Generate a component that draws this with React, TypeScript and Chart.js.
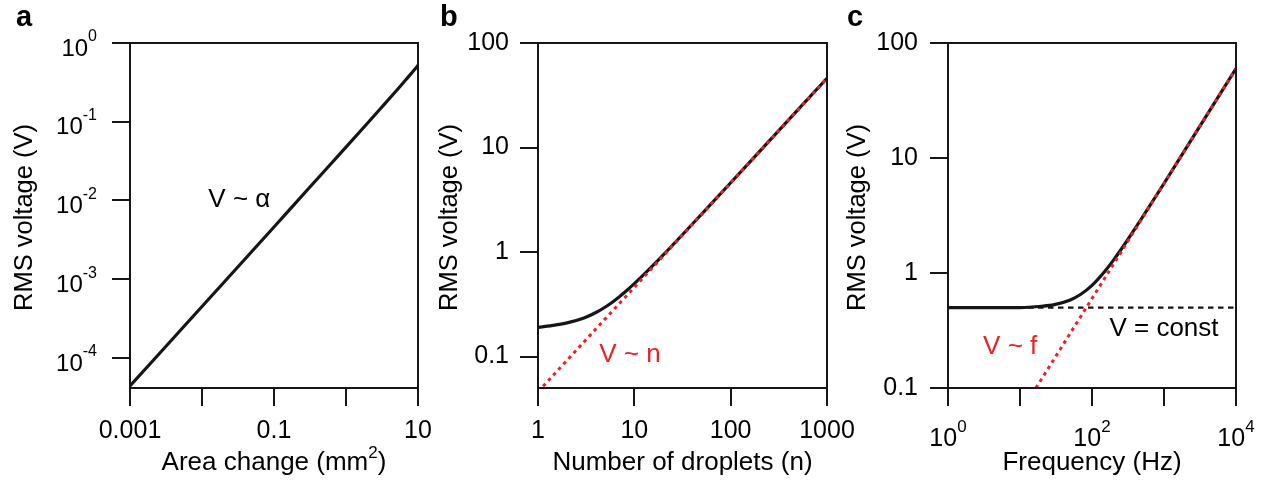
import React, { useEffect, useRef } from 'react';
import { Chart, registerables } from 'chart.js';

Chart.register(...registerables);

const FONT = "'Liberation Sans', Arial, Helvetica, sans-serif";
const RED = 'rgb(236, 32, 39)';
const INK = '#161615';

// ---------- Panel a ----------
const areaChange = [0.001, 0.01, 0.1, 0.3, 1, 2, 3, 5, 7, 8.5, 10];
const voltageA = [4.4e-5, 4.5e-4, 4.6e-3, 0.0141, 0.0475, 0.0963, 0.146, 0.247, 0.353, 0.435, 0.52];
const aXTicks = [0.001, 0.01, 0.1, 1, 10];
const aXLabels = ['0.001', '', '0.1', '', '10'];
const aYTicks = [1, 0.1, 0.01, 0.001, 0.0001];
const aYLabels = ['10^{0}', '10^{-1}', '10^{-2}', '10^{-3}', '10^{-4}'];

// ---------- Panel b ----------
const droplets = [1, 1.5, 2, 3, 4, 5, 6, 7, 8, 10, 12, 15, 20, 30, 50, 100, 200, 500, 1000];
const voltageB = [0.19, 0.2, 0.21, 0.234, 0.264, 0.298, 0.335, 0.374, 0.414, 0.498, 0.584, 0.716, 0.939, 1.393, 2.308, 4.6, 9.2, 23, 46];
const fitN = [1, 1000];
const fitVB = [0.046, 46];
const bXTicks = [1, 10, 100, 1000];
const bXLabels = ['1', '10', '100', '1000'];
const bYTicks = [100, 10, 1, 0.1];
const bYLabels = ['100', '10', '1', '0.1'];

// ---------- Panel c ----------
const freq = [1, 3, 10, 20, 30, 50, 70, 100, 150, 200, 300, 500, 1000, 3000, 10000];
const voltageC = [0.5, 0.5, 0.5, 0.514, 0.531, 0.583, 0.653, 0.78, 1.03, 1.3, 1.87, 3.04, 6.0, 18, 60];
const fitF = [10, 10000];
const fitVC = [0.06, 60];
const constF = [1, 10000];
const constV = [0.5, 0.5];
const cXTicks = [1, 10, 100, 1000, 10000];
const cXLabels = ['10^{0}', '', '10^{2}', '', '10^{4}'];
const cYTicks = [100, 10, 1, 0.1];
const cYLabels = ['100', '10', '1', '0.1'];

type Seg = { t: string; sup?: boolean };

function parseRich(s: string): Seg[] {
  const out: Seg[] = [];
  const re = /\^\{([^}]*)\}/g;
  let last = 0;
  let m: RegExpExecArray | null;
  while ((m = re.exec(s))) {
    if (m.index > last) out.push({ t: s.slice(last, m.index) });
    out.push({ t: m[1], sup: true });
    last = re.lastIndex;
  }
  if (last < s.length) out.push({ t: s.slice(last) });
  return out;
}

function drawRich(
  ctx: CanvasRenderingContext2D,
  s: string,
  x: number,
  y: number,
  align: 'left' | 'center' | 'right',
  size: number,
  supSize: number,
  raise: number,
  color: string,
  weight = 'normal'
) {
  const segs = parseRich(s);
  const fontOf = (sz: number) => `${weight} ${sz}px ${FONT}`;
  const widths = segs.map((seg) => {
    ctx.font = fontOf(seg.sup ? supSize : size);
    return ctx.measureText(seg.t).width;
  });
  const total = widths.reduce((a, b) => a + b, 0);
  let cx = align === 'left' ? x : align === 'center' ? x - total / 2 : x - total;
  ctx.fillStyle = color;
  ctx.textAlign = 'left';
  ctx.textBaseline = 'middle';
  segs.forEach((seg, i) => {
    ctx.font = fontOf(seg.sup ? supSize : size);
    ctx.fillText(seg.t, cx, seg.sup ? y - raise : y);
    cx += widths[i];
  });
}

type Note = { text: string; x: number; y: number; color: string };

type PanelSpec = {
  letter: string;
  letterX: number;
  xTicks: number[];
  xLabels: string[];
  xLabelDy: number;
  xLabelSize: number;
  yTicks: number[];
  yLabels: string[];
  yLabelSize: number;
  yLabelDy: number;
  yGap: number;
  xTitle: string;
  yTitle: string;
  yTitleX: number;
  notes: Note[];
};

function makePlugin(spec: PanelSpec) {
  return {
    id: 'panelText' + spec.letter,
    afterDraw(chart: any) {
      const ctx: CanvasRenderingContext2D = chart.ctx;
      const { left, right, top, bottom } = chart.chartArea;
      const xs = chart.scales.x;
      const ys = chart.scales.y;
      ctx.save();
      // frame
      ctx.strokeStyle = INK;
      ctx.lineWidth = 2;
      ctx.strokeRect(left, top, right - left, bottom - top);

      // panel letter
      ctx.fillStyle = '#000';
      ctx.font = `bold 29px ${FONT}`;
      ctx.textAlign = 'left';
      ctx.textBaseline = 'alphabetic';
      ctx.fillText(spec.letter, spec.letterX, 26);

      // x tick labels
      spec.xTicks.forEach((v, i) => {
        const lab = spec.xLabels[i];
        if (!lab) return;
        const px = xs.getPixelForValue(v);
        drawRich(ctx, lab, px, bottom + spec.xLabelDy, 'center', spec.xLabelSize, 17, 12, '#000');
      });

      // y tick labels
      spec.yTicks.forEach((v, i) => {
        const lab = spec.yLabels[i];
        if (!lab) return;
        const py = ys.getPixelForValue(v);
        drawRich(ctx, lab, left - 18 - spec.yGap, py + spec.yLabelDy, 'right', spec.yLabelSize, 16, 12, '#000');
      });

      // x title
      drawRich(ctx, spec.xTitle, (left + right) / 2, 463, 'center', 26, 17, 10, '#000');

      // y title
      ctx.save();
      ctx.translate(spec.yTitleX, (top + bottom) / 2 + 2);
      ctx.rotate(-Math.PI / 2);
      drawRich(ctx, spec.yTitle, 0, 0, 'center', 25.5, 16, 10, '#000');
      ctx.restore();

      // annotations
      spec.notes.forEach((n) => {
        const px = xs.getPixelForValue(n.x);
        const py = ys.getPixelForValue(n.y);
        drawRich(ctx, n.text, px, py, 'center', 26, 16, 10, n.color);
      });
      ctx.restore();
    },
  };
}

function axis(min: number, max: number, ticks: number[], position: 'bottom' | 'left') {
  return {
    type: 'logarithmic' as const,
    position,
    min,
    max,
    afterBuildTicks: (scale: any) => {
      scale.ticks = ticks.map((v) => ({ value: v }));
    },
    ticks: { display: false },
    title: { display: false },
    grid: {
      display: true,
      drawOnChartArea: false,
      drawTicks: true,
      tickLength: 18,
      color: INK,
      lineWidth: 2,
      tickColor: INK,
      tickWidth: 2,
    },
    border: { display: true, color: INK, width: 2 },
  };
}

function pts(xs: number[], ys: number[]) {
  return xs.map((x, i) => ({ x, y: ys[i] }));
}

type PanelProps = {
  left: number;
  width: number;
  padding: { left: number; right: number; top: number; bottom: number };
  datasets: any[];
  xRange: [number, number];
  yRange: [number, number];
  spec: PanelSpec;
};

function Panel(props: PanelProps) {
  const ref = useRef<HTMLCanvasElement>(null);
  useEffect(() => {
    if (!ref.current) return;
    const chart = new Chart(ref.current, {
      type: 'line',
      data: { datasets: props.datasets },
      options: {
        responsive: false,
        animation: false,
        devicePixelRatio: 1,
        layout: { padding: props.padding },
        plugins: { legend: { display: false }, tooltip: { enabled: false } },
        elements: { point: { radius: 0, hoverRadius: 0 } },
        scales: {
          x: axis(props.xRange[0], props.xRange[1], props.spec.xTicks, 'bottom'),
          y: axis(props.yRange[0], props.yRange[1], props.spec.yTicks, 'left'),
        },
      } as any,
      plugins: [makePlugin(props.spec)],
    });
    return () => chart.destroy();
  }, []);
  return (
    <canvas
      ref={ref}
      width={props.width}
      height={482}
      style={{ position: 'absolute', left: props.left, top: 0, width: props.width, height: 482 }}
    />
  );
}

const solid = (data: any[]) => ({
  data,
  borderColor: INK,
  borderWidth: 3.2,
  pointRadius: 0,
  fill: false,
  cubicInterpolationMode: 'monotone',
});

const redDots = (data: any[]) => ({
  data,
  borderColor: RED,
  borderWidth: 3,
  borderDash: [3.5, 4],
  pointRadius: 0,
  fill: false,
});

export default function App() {
  const specA: PanelSpec = {
    letter: 'a',
    letterX: 16,
    xTicks: aXTicks,
    xLabels: aXLabels,
    xLabelDy: 43,
    xLabelSize: 25,
    yTicks: aYTicks,
    yLabels: aYLabels,
    yLabelSize: 24,
    yLabelDy: 6,
    yGap: 15,
    xTitle: 'Area change (mm^{2})',
    yTitle: 'RMS voltage (V)',
    yTitleX: 25,
    notes: [{ text: 'V ~ α', x: 0.033, y: 0.0101, color: '#000' }],
  };
  const specB: PanelSpec = {
    letter: 'b',
    letterX: 10,
    xTicks: bXTicks,
    xLabels: bXLabels,
    xLabelDy: 43,
    xLabelSize: 25,
    yTicks: bYTicks,
    yLabels: bYLabels,
    yLabelSize: 25,
    yLabelDy: 0,
    yGap: 11,
    xTitle: 'Number of droplets (n)',
    yTitle: 'RMS voltage (V)',
    yTitleX: 20,
    notes: [{ text: 'V ~ n', x: 9, y: 0.104, color: RED }],
  };
  const specC: PanelSpec = {
    letter: 'c',
    letterX: 7,
    xTicks: cXTicks,
    xLabels: cXLabels,
    xLabelDy: 51,
    xLabelSize: 25,
    yTicks: cYTicks,
    yLabels: cYLabels,
    yLabelSize: 25,
    yLabelDy: 0,
    yGap: 12,
    xTitle: 'Frequency (Hz)',
    yTitle: 'RMS voltage (V)',
    yTitleX: 18,
    notes: [
      { text: 'V ~ f', x: 7.3, y: 0.227, color: RED },
      { text: 'V = const', x: 1000, y: 0.326, color: '#000' },
    ],
  };

  return (
    <div style={{ position: 'fixed', left: 0, top: 0, width: 1267, height: 482, background: '#fff', overflow: 'hidden' }}>
      <Panel
        left={0}
        width={445}
        padding={{ left: 112, right: 27, top: 43, bottom: 76 }}
        datasets={[solid(pts(areaChange, voltageA))]}
        xRange={[0.001, 10]}
        yRange={[4.15e-5, 1]}
        spec={specA}
      />
      <Panel
        left={430}
        width={437}
        padding={{ left: 90, right: 40, top: 43, bottom: 76 }}
        datasets={[redDots(pts(fitN, fitVB)), solid(pts(droplets, voltageB))]}
        xRange={[1, 1000]}
        yRange={[0.05, 100]}
        spec={specB}
      />
      <Panel
        left={840}
        width={427}
        padding={{ left: 90, right: 31, top: 43, bottom: 76 }}
        datasets={[
          redDots(pts(fitF, fitVC)),
          solid(pts(freq, voltageC)),
          {
            data: pts(constF, constV),
            borderColor: INK,
            borderWidth: 2.2,
            borderDash: [5.5, 4.5],
            pointRadius: 0,
            fill: false,
          },
        ]}
        xRange={[1, 10000]}
        yRange={[0.1, 100]}
        spec={specC}
      />
    </div>
  );
}
